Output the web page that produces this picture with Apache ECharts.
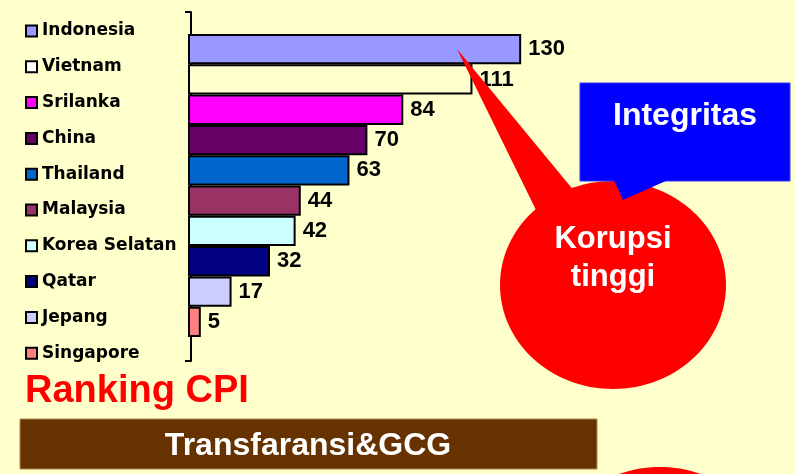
<!DOCTYPE html>
<html>
<head>
<meta charset="utf-8">
<script src="https://cdn.jsdelivr.net/npm/echarts@6/dist/echarts.min.js"></script>
<style>
  html, body { margin: 0; padding: 0; background: #FFFFCC; }
  #chart { width: 795px; height: 474px; }
</style>
</head>
<body>
<div id="chart"></div>
<script>
// data kolom
var countries = ['Indonesia', 'Vietnam', 'Srilanka', 'China', 'Thailand', 'Malaysia', 'Korea Selatan', 'Qatar', 'Jepang', 'Singapore'];
var ranks = [130, 111, 84, 70, 63, 44, 42, 32, 17, 5];
var barColors = ['#9999FF', '#FFFFCC', '#FF00FF', '#660066', '#0066CC', '#993366', '#CCFFFF', '#000080', '#CCCCFF', '#FF8080'];

var myChart = echarts.init(document.getElementById('chart'));

// satu series per negara supaya legend-nya muncul seperti di Excel
var series = countries.map(function (name, i) {
    return {
        name: name,
        type: 'bar',
        stack: 'cpi',
        xAxisIndex: 0,
        yAxisIndex: 0,
        barCategoryGap: '0%',
        data: ranks.map(function (v, j) { return j === i ? v : '-'; }),
        itemStyle: { color: barColors[i], borderColor: '#000', borderWidth: 2 },
        label: {
            show: true,
            position: 'right',
            distance: 7,
            color: '#000',
            fontSize: 22,
            fontWeight: 'bold',
            fontFamily: 'Liberation Sans, Arial, sans-serif'
        }
    };
});

var legendData = countries.map(function (name, i) {
    // kotak Vietnam di legend tampak putih
    return i === 1 ? { name: name, itemStyle: { color: '#FFFFFF' } } : name;
});

var option = {
    backgroundColor: '#FFFFCC',
    animation: false,
    legend: {
        orient: 'vertical',
        left: 25,
        top: 21,
        padding: 0,
        itemWidth: 11,
        itemHeight: 11,
        itemGap: 15.8,
        icon: 'rect',
        selectedMode: false,
        itemStyle: { borderColor: '#000', borderWidth: 2 },
        textStyle: {
            color: '#000',
            fontSize: 17,
            fontWeight: 'bold',
            lineHeight: 20,
            fontFamily: 'DejaVu Sans, sans-serif'
        },
        data: legendData
    },
    grid: [
        { left: 188, top: 34, width: 510, height: 303 },
        { left: 191, top: 12, width: 510, height: 349 }
    ],
    xAxis: [
        { type: 'value', gridIndex: 0, min: 0, max: 199, show: false },
        { type: 'value', gridIndex: 1, min: 0, max: 199, show: false }
    ],
    yAxis: [
        {
            type: 'category',
            gridIndex: 0,
            inverse: true,
            data: countries,
            axisLine: { show: false },
            axisTick: { show: false },
            axisLabel: { show: false }
        },
        {
            // garis sumbu dengan tick di kedua ujung
            type: 'value',
            gridIndex: 1,
            min: 0,
            max: 1,
            interval: 1,
            axisLine: { show: true, lineStyle: { color: '#000', width: 2 } },
            axisTick: { show: true, length: 6, lineStyle: { color: '#000', width: 2 } },
            axisLabel: { show: false },
            splitLine: { show: false }
        }
    ],
    series: series,
    graphic: [
        // balon merah "Korupsi tinggi"
        { type: 'ellipse', z: 10, shape: { cx: 613, cy: 285, rx: 113, ry: 104 }, style: { fill: '#FF0000' } },
        { type: 'polygon', z: 10, shape: { points: [[457, 49], [537, 212], [575, 192]] }, style: { fill: '#FF0000' } },
        {
            type: 'text', z: 12, x: 613, y: 258,
            style: {
                text: 'Korupsi\ntinggi', fill: '#FFFFFF', align: 'center', verticalAlign: 'middle',
                font: 'bold 31px Liberation Sans, Arial, sans-serif', lineHeight: 38
            }
        },
        // kotak biru "Integritas"
        { type: 'rect', z: 11, shape: { x: 580, y: 83, width: 210, height: 98 }, style: { fill: '#0000FF', stroke: '#3333FF', lineWidth: 1 } },
        { type: 'polygon', z: 11, shape: { points: [[614, 180], [623, 200], [668, 180]] }, style: { fill: '#0000FF' } },
        {
            type: 'text', z: 12, x: 685, y: 116,
            style: {
                text: 'Integritas', fill: '#FFFFFF', align: 'center', verticalAlign: 'middle',
                font: 'bold 32px Liberation Sans, Arial, sans-serif'
            }
        },
        // judul bawah
        {
            type: 'text', z: 12, x: 25, y: 392,
            style: {
                text: 'Ranking CPI', fill: '#FF0000', align: 'left', verticalAlign: 'middle',
                font: 'bold 38px Liberation Sans, Arial, sans-serif'
            }
        },
        { type: 'rect', z: 11, shape: { x: 20, y: 419, width: 577, height: 50 }, style: { fill: '#663300', stroke: '#AA8855', lineWidth: 1 } },
        {
            type: 'text', z: 12, x: 308, y: 446,
            style: {
                text: 'Transfaransi&GCG', fill: '#FFFFFF', align: 'center', verticalAlign: 'middle',
                font: 'bold 32px Liberation Sans, Arial, sans-serif'
            }
        },
        // balon merah berikutnya (terpotong)
        { type: 'ellipse', z: 10, shape: { cx: 660, cy: 571, rx: 113, ry: 104 }, style: { fill: '#FF0000' } }
    ]
};

option && myChart.setOption(option);
</script>
</body>
</html>
